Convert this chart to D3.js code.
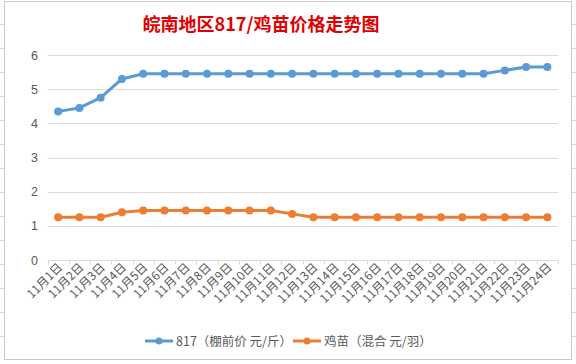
<!DOCTYPE html>
<html><head><meta charset="utf-8">
<script src="https://cdn.jsdelivr.net/npm/d3@7"></script>
<style>body{margin:0;background:#fff;}svg{display:block;font-family:"Noto Sans CJK SC","Microsoft YaHei",sans-serif;}</style>
</head><body><svg id="c" width="576" height="364"></svg>
<script>
const categories = ["11月1日","11月2日","11月3日","11月4日","11月5日","11月6日","11月7日","11月8日","11月9日","11月10日","11月11日","11月12日","11月13日","11月14日","11月15日","11月16日","11月17日","11月18日","11月19日","11月20日","11月21日","11月22日","11月23日","11月24日"];
const series817 = [4.35,4.45,4.75,5.3,5.45,5.45,5.45,5.45,5.45,5.45,5.45,5.45,5.45,5.45,5.45,5.45,5.45,5.45,5.45,5.45,5.45,5.55,5.65,5.65];
const seriesChick = [1.25,1.25,1.25,1.4,1.45,1.45,1.45,1.45,1.45,1.45,1.45,1.35,1.25,1.25,1.25,1.25,1.25,1.25,1.25,1.25,1.25,1.25,1.25,1.25];
const yTicks = [0,1,2,3,4,5,6];
const seriesNames = ["817（棚前价 元/斤）","鸡苗（混合 元/羽）"];
const colors = ["#5b9bd5","#ed7d31"];
const title = "皖南地区817/鸡苗价格走势图";

const svg = d3.select("#c");
// spreadsheet background stubs
const g0 = svg.append("g").attr("stroke","#d4d4d4").attr("stroke-width",1);
[24,48,72,96,120,144,168,192,216,240,264,288,312,336].forEach(y=>{
  g0.append("line").attr("x1",0).attr("x2",4).attr("y1",y+0.5).attr("y2",y+0.5);
  g0.append("line").attr("x1",572).attr("x2",576).attr("y1",y+0.5).attr("y2",y+0.5);
});
svg.append("rect").attr("x",4.5).attr("y",1.5).attr("width",567).attr("height",358)
  .attr("fill","#fff").attr("stroke","#c8c8c8");

const x = d3.scaleBand().domain(categories).range([47.5,558]);
const y = d3.scaleLinear().domain([0,6]).range([260,55]);

// gridlines
svg.append("g").selectAll("line").data(yTicks.filter(d=>d>0)).join("line")
  .attr("x1",47.5).attr("x2",558).attr("y1",d=>Math.round(y(d))+0.5).attr("y2",d=>Math.round(y(d))+0.5)
  .attr("stroke","#d9d9d9").attr("stroke-width",1);

// y labels
svg.append("g").selectAll("text").data(yTicks).join("text")
  .attr("x",38).attr("y",d=>y(d)+4.5).attr("text-anchor","end")
  .attr("font-size",12.5).attr("fill","#595959").attr("font-family","Liberation Sans, Arial, sans-serif").text(d=>d);

// x axis
const xAxis = d3.axisBottom(x).tickSize(4).tickFormat("");
const ax = svg.append("g").attr("transform",`translate(0,${Math.round(y(0))+0.5})`).call(xAxis);
ax.select(".domain").attr("stroke","#d9d9d9").attr("d","M47.5,0H558");
ax.selectAll(".tick").remove();
const bounds = categories.map((c,i)=>x(c)).concat([558]);
ax.selectAll("line.b").data(bounds).join("line").attr("class","b")
  .attr("x1",d=>Math.round(d)+0.5).attr("x2",d=>Math.round(d)+0.5).attr("y1",0).attr("y2",4).attr("stroke","#d9d9d9");

svg.append("g").selectAll("text").data(categories).join("text")
  .attr("transform",d=>`translate(${x(d)+x.bandwidth()/2+5},${268}) rotate(-45)`)
  .attr("text-anchor","end").attr("font-size",12).attr("fill","#595959").text(d=>d);

// lines
const line = d3.line().x((d,i)=>x(categories[i])+x.bandwidth()/2).y(d=>y(d));
[series817,seriesChick].forEach((s,k)=>{
  svg.append("path").datum(s).attr("d",line).attr("fill","none").attr("stroke",colors[k])
    .attr("stroke-width",3).attr("stroke-linejoin","round");
  svg.append("g").selectAll("circle").data(s).join("circle")
    .attr("cx",(d,i)=>x(categories[i])+x.bandwidth()/2).attr("cy",d=>y(d)).attr("r",4)
    .attr("fill",colors[k]);
});

// title
svg.append("text").attr("x",261).attr("y",31).attr("text-anchor","middle")
  .attr("font-size",18).attr("font-weight","bold").attr("fill","#e00000").text(title);

// legend
const lg = svg.append("g");
const legX = [145,293];
seriesNames.forEach((n,k)=>{
  lg.append("line").attr("x1",legX[k]).attr("x2",legX[k]+28).attr("y1",341).attr("y2",341)
    .attr("stroke",colors[k]).attr("stroke-width",3);
  lg.append("circle").attr("cx",legX[k]+14).attr("cy",341).attr("r",3.5).attr("fill",colors[k]);
  lg.append("text").attr("x",legX[k]+31).attr("y",345.5).attr("font-size",12.5).attr("fill","#595959").text(n);
});
</script></body></html>
